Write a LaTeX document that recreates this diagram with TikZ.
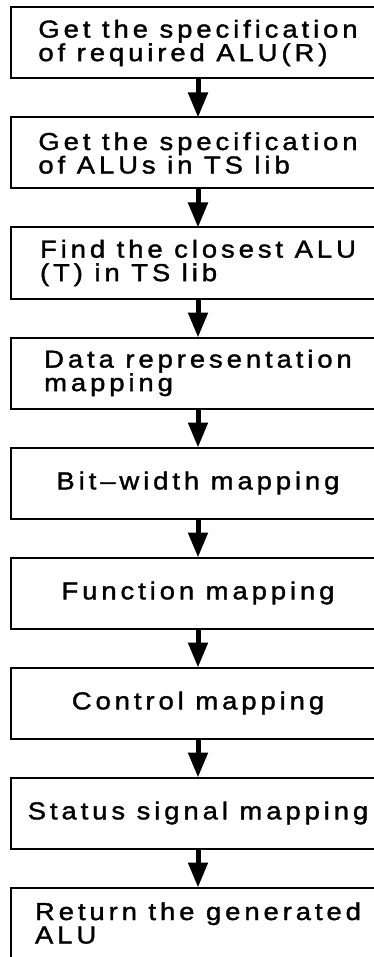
\documentclass[tikz,border=0pt]{standalone}
\usepackage{fontspec}
\setmainfont{Liberation Sans}[FakeStretch=1.12, FakeBold=1.5, LetterSpace=16, Ligatures=NoCommon]
\usetikzlibrary{arrows.meta}

\begin{document}
\begin{tikzpicture}[x=1pt, y=1pt,
  stage/.style={draw, line width=2pt, minimum width=374pt, minimum height=71pt,
    inner sep=0pt, outer sep=0pt, font=\fontsize{24.5}{23.5}\selectfont},
  twoline/.style={stage, align=left},
  flow/.style={line width=5pt, -{Triangle[length=25pt, width=19pt]}}]

\useasboundingbox (0,0) rectangle (374,-957);
\clip (0,0) rectangle (374,-957);

\node (spec) at (198, -43) [twoline] {Get the specification\\of required ALU(R)};
\node (lib) at (198, -153) [twoline] {Get the specification\\of ALUs in TS lib};
\node (closest) at (198, -263) [twoline] {Find the closest ALU\\(T) in TS lib};
\node (datarep) at (198, -373) [twoline] {Data representation\\mapping};
\node (bitwidth) at (198, -483) [stage] {Bit--width mapping};
\node (func) at (198, -593) [stage] {Function mapping};
\node (ctrl) at (198, -703) [stage] {Control mapping};
\node (status) at (198, -813) [stage] {Status signal mapping};
\node (ret) at (198, -923) [twoline] {Return the generated\\ALU};

\draw [flow] (spec) -- (lib);
\draw [flow] (lib) -- (closest);
\draw [flow] (closest) -- (datarep);
\draw [flow] (datarep) -- (bitwidth);
\draw [flow] (bitwidth) -- (func);
\draw [flow] (func) -- (ctrl);
\draw [flow] (ctrl) -- (status);
\draw [flow] (status) -- (ret);
\end{tikzpicture}
\end{document}
